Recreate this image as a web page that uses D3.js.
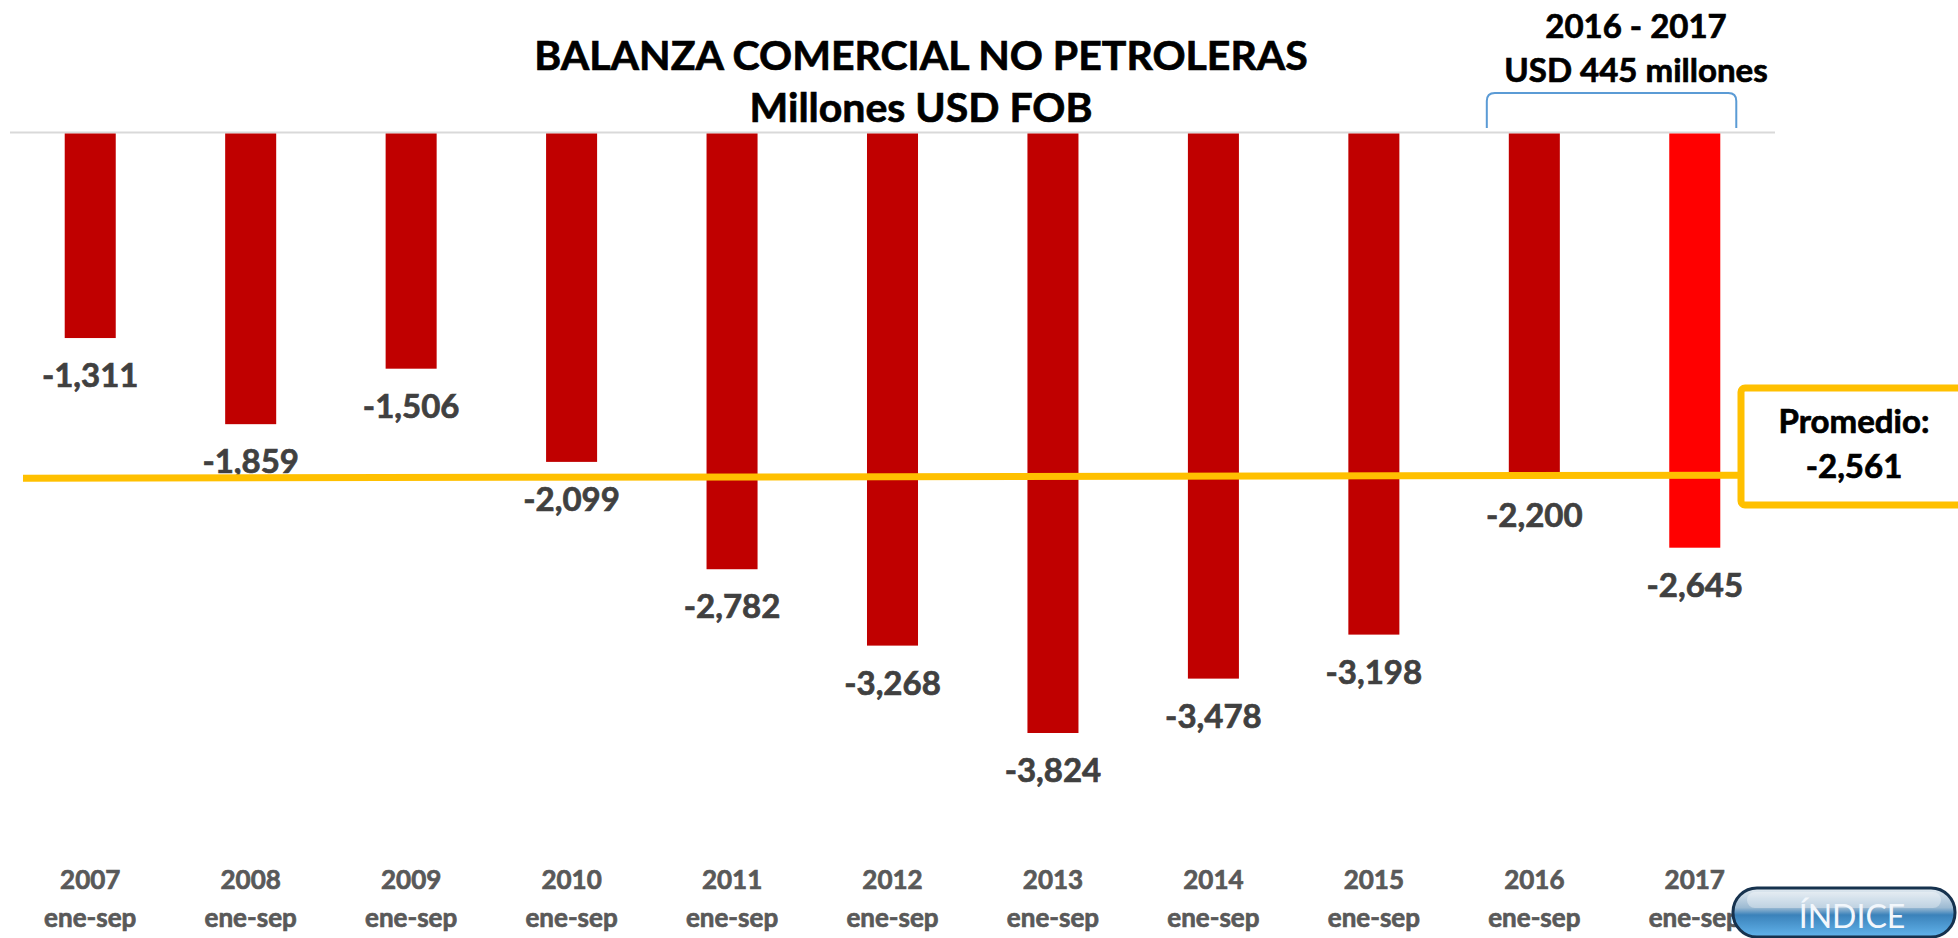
<!DOCTYPE html>
<html>
<head>
<meta charset="utf-8">
<script src="https://cdn.jsdelivr.net/npm/d3@7"></script>
<style>
  html, body { margin: 0; padding: 0; background: #fff; }
  #chart { width: 1958px; height: 938px; overflow: hidden; }
  text { font-family: Lato, "Open Sans", sans-serif; }
  text.b { font-weight: bold; stroke-width: 0.7px; paint-order: stroke; }
</style>
</head>
<body>
<div id="chart"></div>
<script>
// datos
var years = ["2007", "2008", "2009", "2010", "2011", "2012", "2013", "2014", "2015", "2016", "2017"];
var periodLabel = "ene-sep";
var balanza = [-1311, -1859, -1506, -2099, -2782, -3268, -3824, -3478, -3198, -2200, -2645];
var promedio = -2561;
// nivel al que esta dibujada la linea amarilla en el grafico
var lineaNivel = -2190;
var titleLines = ["BALANZA COMERCIAL NO PETROLERAS", "Millones USD FOB"];
var notaLines = ["2016 - 2017", "USD 445 millones"];
var notaYears = ["2016", "2017"];

var width = 1958,
    height = 938;

var svg = d3.select("#chart").append("svg")
    .attr("width", width)
    .attr("height", height);

var format = d3.format(",d");
function fmt(v) { return format(v).replace("−", "-"); }

var x = d3.scaleBand()
    .domain(years)
    .range([10, 1775])
    .paddingInner(0.682)
    .paddingOuter(0.341);

var y = d3.scaleLinear()
    .domain([0, d3.min(balanza)])
    .range([132, 733]);

var defs = svg.append("defs");
var grad = defs.append("linearGradient")
    .attr("id", "btnGrad")
    .attr("x1", 0).attr("y1", 0).attr("x2", 0).attr("y2", 1);
grad.append("stop").attr("offset", "0%").attr("stop-color", "#e4ecf2");
grad.append("stop").attr("offset", "40%").attr("stop-color", "#9dbbd3");
grad.append("stop").attr("offset", "55%").attr("stop-color", "#3b82ba");
grad.append("stop").attr("offset", "100%").attr("stop-color", "#62b4ec");

// titulo
svg.append("g").selectAll("text")
    .data(titleLines)
    .enter().append("text")
    .attr("class", "b")
    .attr("x", 921)
    .attr("y", function (d, i) { return 70 + i * 52; })
    .attr("text-anchor", "middle")
    .attr("font-size", 41)
    .attr("fill", "#000")
    .attr("stroke", "#000")
    .text(function (d) { return d; });

// linea base
svg.append("line")
    .attr("x1", x.range()[0])
    .attr("x2", x.range()[1])
    .attr("y1", y(0) + 0.5)
    .attr("y2", y(0) + 0.5)
    .attr("stroke", "#d9d9d9")
    .attr("stroke-width", 2);

// barras
var data = years.map(function (d, i) { return { year: d, value: balanza[i] }; });

svg.append("g").selectAll("rect")
    .data(data)
    .enter().append("rect")
    .attr("x", function (d) { return x(d.year); })
    .attr("y", y(0) + 1.5)
    .attr("width", x.bandwidth())
    .attr("height", function (d) { return y(d.value) - y(0) - 1.5; })
    .attr("fill", function (d, i) { return i == data.length - 1 ? "#ff0000" : "#c00000"; });

// etiquetas de valor
svg.append("g").selectAll("text")
    .data(data)
    .enter().append("text")
    .attr("class", "b")
    .attr("x", function (d) { return x(d.year) + x.bandwidth() / 2; })
    .attr("y", function (d) { return y(d.value) + 49; })
    .attr("text-anchor", "middle")
    .attr("font-size", 33)
    .attr("fill", "#404040")
    .attr("stroke", "#404040")
    .text(function (d) { return fmt(d.value); });

// eje x (anio + periodo)
var xl = svg.append("g").selectAll("g")
    .data(years)
    .enter().append("g")
    .attr("transform", function (d) { return "translate(" + (x(d) + x.bandwidth() / 2) + ",0)"; });
xl.append("text")
    .attr("class", "b")
    .attr("y", 889)
    .attr("text-anchor", "middle")
    .attr("font-size", 26)
    .attr("fill", "#595959")
    .attr("stroke", "#595959")
    .text(function (d) { return d; });
xl.append("text")
    .attr("class", "b")
    .attr("y", 927)
    .attr("text-anchor", "middle")
    .attr("font-size", 26)
    .attr("fill", "#595959")
    .attr("stroke", "#595959")
    .text(periodLabel);

// linea del promedio y caja
var boxX = 1741;
svg.append("line")
    .attr("x1", x.range()[0] + 13)
    .attr("x2", boxX)
    .attr("y1", y(lineaNivel) + 2)
    .attr("y2", y(lineaNivel) - 1)
    .attr("stroke", "#ffc000")
    .attr("stroke-width", 7);

svg.append("rect")
    .attr("x", boxX)
    .attr("y", 388)
    .attr("width", 260)
    .attr("height", 117)
    .attr("rx", 4)
    .attr("fill", "#fff")
    .attr("stroke", "#ffc000")
    .attr("stroke-width", 7);

svg.append("g").selectAll("text")
    .data(["Promedio:", fmt(promedio)])
    .enter().append("text")
    .attr("class", "b")
    .attr("x", 1854)
    .attr("y", function (d, i) { return 433 + i * 45; })
    .attr("text-anchor", "middle")
    .attr("font-size", 33)
    .attr("fill", "#000")
    .attr("stroke", "#000")
    .text(function (d) { return d; });

// llave 2016 - 2017
var bl = x(notaYears[0]) - 22,
    br = x(notaYears[1]) + x.bandwidth() + 16,
    bt = 93,
    bb = y(0) - 4;
svg.append("path")
    .attr("d", "M" + bl + "," + bb + " L" + bl + "," + (bt + 8) +
        " Q" + bl + "," + bt + " " + (bl + 8) + "," + bt +
        " L" + (br - 8) + "," + bt +
        " Q" + br + "," + bt + " " + br + "," + (bt + 8) +
        " L" + br + "," + bb)
    .attr("fill", "none")
    .attr("stroke", "#5b9bd5")
    .attr("stroke-width", 2);

svg.append("g").selectAll("text")
    .data(notaLines)
    .enter().append("text")
    .attr("class", "b")
    .attr("x", 1636)
    .attr("y", function (d, i) { return 38 + i * 44; })
    .attr("text-anchor", "middle")
    .attr("font-size", 33)
    .attr("fill", "#000")
    .attr("stroke", "#000")
    .text(function (d) { return d; });

// boton INDICE
var btn = svg.append("g").attr("transform", "translate(1733,888)");
btn.append("rect")
    .attr("width", 222)
    .attr("height", 49)
    .attr("rx", 24)
    .attr("fill", "url(#btnGrad)")
    .attr("stroke", "#16324e")
    .attr("stroke-width", 3);
btn.append("rect")
    .attr("x", 14)
    .attr("y", 4)
    .attr("width", 194)
    .attr("height", 16)
    .attr("rx", 8)
    .attr("fill", "#ffffff")
    .attr("opacity", 0.35);
btn.append("text")
    .attr("x", 119)
    .attr("y", 40)
    .attr("text-anchor", "middle")
    .attr("font-size", 32)
    .attr("fill", "#f2f7fc")
    .text("ÍNDICE");
</script>
</body>
</html>
